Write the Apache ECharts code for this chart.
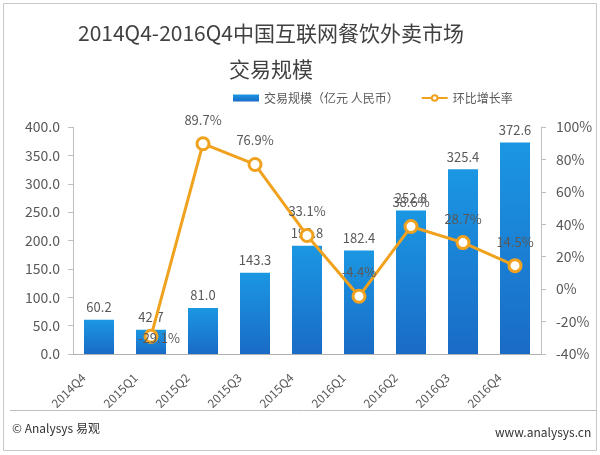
<!DOCTYPE html>
<html><head><meta charset="utf-8">
<script src="https://cdn.jsdelivr.net/npm/echarts@6/dist/echarts.min.js"></script>
<style>html,body{margin:0;padding:0;background:#fff}#c{width:600px;height:455px}</style>
</head><body><div id="c"></div>
<script>
var categories = ['2014Q4','2015Q1','2015Q2','2015Q3','2015Q4','2016Q1','2016Q2','2016Q3','2016Q4'];
var volume = [60.2, 42.7, 81.0, 143.3, 190.8, 182.4, 252.8, 325.4, 372.6];
var growth = [null, -29.1, 89.7, 76.9, 33.1, -4.4, 38.6, 28.7, 14.5];
var leftTicks = {min: 0, max: 400, interval: 50};
var rightTicks = {min: -40, max: 100, interval: 20};

var FONT = "'Microsoft YaHei','Noto Sans CJK SC',sans-serif";
var growthData = growth.map(function (v, i) {
  if (i === 1) return {value: v, label: {position: 'inside', offset: [8, 2]}};
  return v;
});
var chart = echarts.init(document.getElementById('c'), null, {renderer: 'canvas'});
chart.setOption({
  backgroundColor: '#fff',
  textStyle: {fontFamily: FONT},
  title: {
    text: '2014Q4-2016Q4中国互联网餐饮外卖市场\n交易规模',
    left: 266, top: 10, textAlign: 'center',
    textStyle: {fontSize: 21, fontWeight: 'normal', color: '#404040', lineHeight: 36, fontFamily: FONT}
  },
  legend: {
    left: 228, top: 87, itemWidth: 26, itemHeight: 7, itemGap: 22,
    textStyle: {fontSize: 12, color: '#595959', fontFamily: FONT},
    data: [{name: '交易规模（亿元 人民币）', icon: 'rect'}, {name: '环比增长率'}]
  },
  grid: {left: 73, right: 59, top: 127, bottom: 101, containLabel: false},
  xAxis: {
    type: 'category', data: categories,
    axisLine: {lineStyle: {color: '#b0b0b0', width: 1}},
    axisTick: {show: false},
    axisLabel: {rotate: 45, fontSize: 12, color: '#595959', margin: 6, padding: [0, 22, 0, 0], fontFamily: FONT}
  },
  yAxis: [{
    type: 'value', min: leftTicks.min, max: leftTicks.max, interval: leftTicks.interval,
    axisLine: {show: true, lineStyle: {color: '#bfbfbf'}},
    axisTick: {show: true, length: 5, lineStyle: {color: '#bfbfbf'}},
    splitLine: {show: false},
    axisLabel: {fontSize: 14, color: '#595959', margin: 13, formatter: function (v) { return v.toFixed(1); }, fontFamily: FONT}
  }, {
    type: 'value', min: rightTicks.min, max: rightTicks.max, interval: rightTicks.interval,
    axisLine: {show: true, lineStyle: {color: '#bfbfbf'}},
    axisTick: {show: true, length: 5, lineStyle: {color: '#bfbfbf'}},
    splitLine: {show: false},
    axisLabel: {fontSize: 14, color: '#595959', margin: 15, formatter: function (v) { return v + '%'; }, fontFamily: FONT}
  }],
  series: [{
    name: '交易规模（亿元 人民币）', type: 'bar', data: volume, barWidth: 30,
    itemStyle: {color: new echarts.graphic.LinearGradient(0, 0, 0, 1, [
      {offset: 0, color: '#1b97e2'}, {offset: 1, color: '#1a6bc6'}])},
    label: {show: true, position: 'top', distance: 6, fontSize: 13, color: '#595959',
      formatter: function (p) { return p.value.toFixed(1); }, fontFamily: FONT}
  }, {
    name: '环比增长率', type: 'line', yAxisIndex: 1, data: growthData,
    lineStyle: {color: '#f0a21e', width: 3},
    itemStyle: {color: '#fff', borderColor: '#f0a21e', borderWidth: 3},
    symbol: 'circle', symbolSize: 12, showAllSymbol: true,
    label: {show: true, position: 'top', distance: 10, fontSize: 13, color: '#595959',
      formatter: function (p) { return p.value.toFixed(1) + '%'; }, fontFamily: FONT},
    z: 5
  }],
  graphic: [
    {type: 'rect', shape: {x: 3.5, y: 3.5, width: 593, height: 447}, style: {fill: 'none', stroke: '#c8c8c8', lineWidth: 1}, silent: true},
    {type: 'line', shape: {x1: 10, y1: 410.5, x2: 597, y2: 410.5}, style: {stroke: '#bfbfbf', lineWidth: 1}, silent: true},
    {type: 'text', left: 12, top: 422, style: {text: '© Analysys 易观', fill: '#333', font: '12px ' + FONT}},
    {type: 'text', left: 495, top: 426, style: {text: 'www.analysys.cn', fill: '#333', font: '12px ' + FONT}}
  ]
});
</script></body></html>
